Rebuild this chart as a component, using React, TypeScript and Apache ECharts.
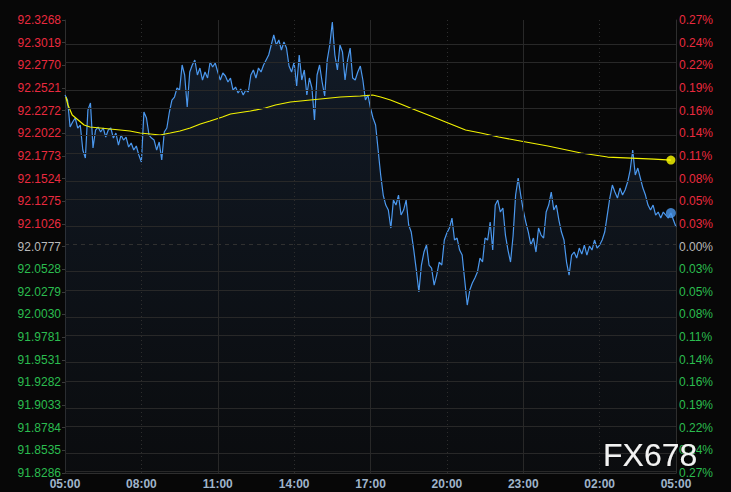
import React, { useEffect, useRef } from "react";
import * as echarts from "echarts";

// ---- data ----
const SAMPLE_MINUTES = 6; // spacing of price samples, starting 05:00
const priceValues: number[] = [
  92.2443, 92.2388, 92.2091, 92.2146, 92.2190, 92.2080, 92.2113, 92.1838, 92.1750, 92.2278,
  92.2355, 92.1860, 92.2058, 92.2091, 92.2036, 92.2080, 92.1981, 92.2058, 92.2080, 92.1970,
  92.2025, 92.1893, 92.2003, 92.1948, 92.1981, 92.1871, 92.1915, 92.1838, 92.1882, 92.1783,
  92.1706, 92.2256, 92.2190, 92.2003, 92.1970, 92.1948, 92.1838, 92.1926, 92.1728, 92.2036,
  92.2080, 92.2256, 92.2388, 92.2421, 92.2520, 92.2498, 92.2773, 92.2663, 92.2311, 92.2696,
  92.2773, 92.2828, 92.2663, 92.2740, 92.2608, 92.2696, 92.2630, 92.2806, 92.2751, 92.2795,
  92.2696, 92.2608, 92.2685, 92.2652, 92.2586, 92.2630, 92.2498, 92.2531, 92.2465, 92.2509,
  92.2443, 92.2498, 92.2476, 92.2663, 92.2718, 92.2630, 92.2740, 92.2696, 92.2773, 92.2828,
  92.2883, 92.2993, 92.3103, 92.2993, 92.3048, 92.2938, 92.3026, 92.2960, 92.2762, 92.2696,
  92.2806, 92.2542, 92.2883, 92.2608, 92.2718, 92.2443, 92.2630, 92.2520, 92.2168, 92.2663,
  92.2773, 92.2586, 92.2432, 92.2828, 92.2993, 92.3246, 92.2883, 92.2718, 92.2993, 92.2916,
  92.2608, 92.2828, 92.2960, 92.2630, 92.2608, 92.2696, 92.2762, 92.2608, 92.2388, 92.2443,
  92.2300, 92.2190, 92.2113, 92.1838, 92.1563, 92.1343, 92.1233, 92.1178, 92.0980, 92.1288,
  92.1233, 92.1343, 92.1123, 92.1178, 92.1288, 92.1013, 92.0936, 92.0738, 92.0518, 92.0276,
  92.0573, 92.0716, 92.0793, 92.0573, 92.0540, 92.0353, 92.0463, 92.0606, 92.0573, 92.0848,
  92.0925, 92.0980, 92.1090, 92.0848, 92.0870, 92.0738, 92.0683, 92.0408, 92.0133, 92.0298,
  92.0375, 92.0430, 92.0496, 92.0650, 92.0606, 92.0870, 92.0848, 92.1046, 92.0738, 92.1233,
  92.1288, 92.1156, 92.1200, 92.0903, 92.0738, 92.0606, 92.0892, 92.1343, 92.1530, 92.1343,
  92.1178, 92.1046, 92.0936, 92.0793, 92.0870, 92.0716, 92.0980, 92.0903, 92.0870, 92.1156,
  92.1233, 92.1376, 92.1178, 92.1233, 92.1068, 92.0936, 92.0848, 92.0606, 92.0463, 92.0683,
  92.0716, 92.0650, 92.0760, 92.0694, 92.0793, 92.0683, 92.0782, 92.0738, 92.0848, 92.0760,
  92.0793, 92.0848, 92.0936, 92.1123, 92.1310, 92.1453, 92.1376, 92.1310, 92.1420, 92.1343,
  92.1398, 92.1486, 92.1618, 92.1838, 92.1563, 92.1640, 92.1530, 92.1420, 92.1343, 92.1233,
  92.1178, 92.1233, 92.1123, 92.1156, 92.1090, 92.1156, 92.1123, 92.1090, 92.1145, 92.1068,
  92.0991,
];

const maMinutes: number[] = [
  2, 7, 17, 31, 45, 59, 83, 106, 130, 153, 177, 201, 224, 248, 271, 295, 319, 342, 371, 390,
  437, 472, 496, 531, 555, 602, 649, 696, 725, 744, 767, 791, 814, 838, 862, 897, 944, 980,
  1022, 1086, 1138, 1216, 1279, 1334, 1388, 1428,
];
const maValues: number[] = [
  92.2421, 92.2333, 92.2223, 92.2168, 92.2113, 92.2091, 92.2080, 92.2069, 92.2058, 92.2047,
  92.2025, 92.2014, 92.2003, 92.2025, 92.2047, 92.2080, 92.2124, 92.2157, 92.2201, 92.2234,
  92.2267, 92.2300, 92.2333, 92.2366, 92.2377, 92.2399, 92.2421, 92.2432, 92.2443, 92.2421,
  92.2388, 92.2344, 92.2300, 92.2256, 92.2212, 92.2146, 92.2058, 92.2025, 92.1981, 92.1926,
  92.1882, 92.1805, 92.1761, 92.1750, 92.1739, 92.1728,
];

const lastPoint = { minute: 1428, price: 92.1145 };

const priceTickLabels: string[] = [
  "91.8286", "91.8535", "91.8784", "91.9033", "91.9282", "91.9531", "91.9781",
  "92.0030", "92.0279", "92.0528", "92.0777", "92.1026", "92.1275", "92.1524",
  "92.1773", "92.2022", "92.2272", "92.2521", "92.2770", "92.3019", "92.3268",
];
const pctTickLabels: string[] = [
  "0.27%", "0.24%", "0.22%", "0.19%", "0.16%", "0.14%", "0.11%", "0.08%", "0.05%", "0.03%",
  "0.00%", "0.03%", "0.05%", "0.08%", "0.11%", "0.14%", "0.16%", "0.19%", "0.22%", "0.24%", "0.27%",
];
const timeTickLabels: string[] = [
  "05:00", "08:00", "11:00", "14:00", "17:00", "20:00", "23:00", "02:00", "05:00",
];
const solidVerticalMinutes: number[] = [360, 720, 1080];
const dottedVerticalMinutes: number[] = [180, 540, 900, 1260];

const Y_MIN = 91.8286;
const Y_MAX = 92.3268;
const BASE_INDEX = 10;

export default function App() {
  const ref = useRef<HTMLDivElement | null>(null);

  useEffect(() => {
    document.body.style.margin = "0";
    document.body.style.background = "#070707";
    if (!ref.current) return;
    const chart = echarts.init(ref.current, null, { renderer: "svg" });

    const step = (Y_MAX - Y_MIN) / (priceTickLabels.length - 1);
    const yTicks = priceTickLabels.map((_, i) => Y_MIN + i * step);
    const idxOf = (v: number) => Math.round((v - Y_MIN) / step);
    const colorOf = (v: number) => {
      const k = idxOf(v);
      if (k > BASE_INDEX) return "#ea2a3f";
      if (k < BASE_INDEX) return "#2bbd4f";
      return "#b9b9b9";
    };

    const gridColor = "#282828";
    const hLines = yTicks.map((v, i) => ({
      yAxis: v,
      lineStyle: {
        color: i === BASE_INDEX ? "#303030" : gridColor,
        width: 1,
        type: i === BASE_INDEX ? [4, 4] : "solid",
      },
    }));
    const vLines = [
      ...solidVerticalMinutes.map((m) => ({ xAxis: m, lineStyle: { color: gridColor, width: 1, type: "solid" } })),
      ...dottedVerticalMinutes.map((m) => ({ xAxis: m, lineStyle: { color: "#2e2e2e", width: 1, type: [1, 3] } })),
    ];

    const labelFont = { fontFamily: "Liberation Sans, Arial, sans-serif", fontSize: 12 };

    chart.setOption({
      animation: false,
      backgroundColor: "#070707",
      grid: { left: 65, right: 55, top: 20, bottom: 19 },
      xAxis: {
        type: "value",
        min: 0,
        max: 1440,
        interval: 180,
        axisLine: { show: true, lineStyle: { color: "#2e2e2e" } },
        axisTick: { show: false },
        splitLine: { show: false },
        axisLabel: {
          ...labelFont,
          fontWeight: "bold",
          color: "#9fb4ca",
          margin: 5,
          formatter: (v: number) => timeTickLabels[Math.round(v / 180)] ?? "",
        },
      },
      yAxis: [
        {
          type: "value",
          min: Y_MIN,
          max: Y_MAX,
          position: "left",
          axisLine: { show: true, lineStyle: { color: "#2e2e2e" } },
          axisTick: { show: true, length: 3, customValues: yTicks, lineStyle: { color: "#3a3a3a" } },
          splitLine: { show: false },
          axisLabel: {
            ...labelFont,
            margin: 4,
            customValues: yTicks,
            showMinLabel: true,
            showMaxLabel: true,
            formatter: (v: number) => priceTickLabels[idxOf(v)] ?? "",
            color: (v: number) => colorOf(v),
          },
        },
        {
          type: "value",
          min: Y_MIN,
          max: Y_MAX,
          position: "right",
          axisLine: { show: true, lineStyle: { color: "#2e2e2e" } },
          axisTick: { show: false },
          splitLine: { show: false },
          axisLabel: {
            ...labelFont,
            margin: 3,
            customValues: yTicks,
            showMinLabel: true,
            showMaxLabel: true,
            formatter: (v: number) => pctTickLabels[pctTickLabels.length - 1 - idxOf(v)] ?? "",
            color: (v: number) => colorOf(v),
          },
        },
      ],
      series: [
        {
          type: "line",
          z: 1,
          silent: true,
          data: [[0, Y_MIN]],
          symbol: "none",
          lineStyle: { width: 0, opacity: 0 },
          markLine: {
            silent: true,
            symbol: ["none", "none"],
            label: { show: false },
            data: [...hLines, ...vLines],
          },
        },
        {
          type: "line",
          z: 2,
          data: priceValues.map((p, i) => [i * SAMPLE_MINUTES, p]),
          symbol: "none",
          lineStyle: { color: "#4b98ee", width: 1.2 },
          areaStyle: {
            origin: "start",
            color: new echarts.graphic.LinearGradient(0, 0, 0, 1, [
              { offset: 0, color: "rgba(44,76,120,0.42)" },
              { offset: 1, color: "rgba(25,32,44,0.3)" },
            ]),
          },
        },
        {
          type: "line",
          z: 3,
          data: maMinutes.map((m, i) => [m, maValues[i]]),
          symbol: "none",
          lineStyle: { color: "#f2f200", width: 1.2 },
        },
        {
          type: "scatter",
          z: 4,
          data: [[maMinutes[maMinutes.length - 1], maValues[maValues.length - 1]]],
          symbolSize: 9,
          itemStyle: { color: "#ffff00" },
        },
        {
          type: "scatter",
          z: 4,
          data: [[lastPoint.minute, lastPoint.price]],
          symbolSize: 10,
          itemStyle: { color: "#4b98ee" },
        },
      ],
      graphic: [
        {
          type: "text",
          left: 603,
          top: 439,
          z: 10,
          style: {
            text: "FX678",
            fill: "#f2f2f2",
            font: "32px 'Liberation Sans', Arial, sans-serif",
            textShadowColor: "rgba(0,0,0,0.8)",
            textShadowBlur: 2,
          },
        },
      ],
    });

    return () => chart.dispose();
  }, []);

  return <div ref={ref} style={{ width: 731, height: 492 }} />;
}
